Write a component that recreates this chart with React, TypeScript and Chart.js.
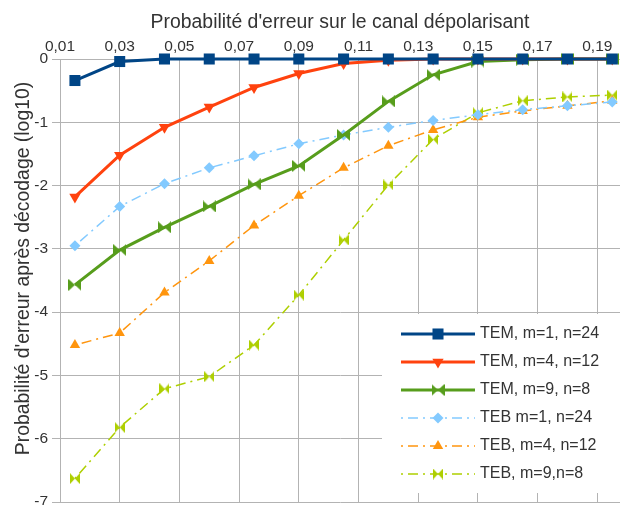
import React, { useEffect, useRef } from 'react';
import { Chart, registerables } from 'chart.js';
import { drawPoint } from 'chart.js/helpers';

Chart.register(...registerables);

const xValues = [0.015, 0.03, 0.045, 0.06, 0.075, 0.09, 0.105, 0.12, 0.135, 0.15, 0.165, 0.18, 0.195];
const xTickValues = [0.01, 0.03, 0.05, 0.07, 0.09, 0.11, 0.13, 0.15, 0.17, 0.19];

const temM1 = [-0.34, -0.04, 0, 0, 0, 0, 0, 0, 0, 0, 0, 0, 0];
const temM4 = [-2.18, -1.52, -1.08, -0.76, -0.45, -0.23, -0.07, -0.02, 0, 0, 0, 0, 0];
const temM9 = [-3.57, -3.02, -2.66, -2.33, -1.98, -1.69, -1.2, -0.67, -0.25, -0.04, -0.01, 0, 0];
const tebM1 = [-2.95, -2.33, -1.97, -1.72, -1.53, -1.34, -1.2, -1.08, -0.97, -0.88, -0.8, -0.74, -0.68];
const tebM4 = [-4.52, -4.33, -3.69, -3.19, -2.63, -2.16, -1.72, -1.37, -1.12, -0.92, -0.82, -0.74, -0.66];
const tebM9 = [-6.63, -5.82, -5.21, -5.02, -4.52, -3.73, -2.86, -1.99, -1.27, -0.85, -0.66, -0.6, -0.57];

const seriesLabels = [
  'TEM, m=1, n=24',
  'TEM, m=4, n=12',
  'TEM, m=9, n=8',
  'TEB m=1, n=24',
  'TEB, m=4, n=12',
  'TEB, m=9,n=8',
];

const xTitle = "Probabilité d'erreur sur le canal dépolarisant";
const yTitle = "Probabilité d'erreur après décodage (log10)";

const FONT = '"Liberation Sans", Arial, sans-serif';
const TEXT = '#333333';
const GRID = '#b3b3b3';

function makeBowtie(color: string, w: number, h: number): HTMLCanvasElement {
  const c = document.createElement('canvas');
  c.width = w;
  c.height = h;
  const g = c.getContext('2d')!;
  g.fillStyle = color;
  g.beginPath();
  g.moveTo(0, 0);
  g.lineTo(w / 2, h / 2);
  g.lineTo(0, h);
  g.closePath();
  g.fill();
  g.beginPath();
  g.moveTo(w, 0);
  g.lineTo(w / 2, h / 2);
  g.lineTo(w, h);
  g.closePath();
  g.fill();
  return c;
}

function toPoints(ys: number[]) {
  return ys.map((y, i) => ({ x: xValues[i], y }));
}

const noPadding = () => ({ left: 0, top: 0, right: 0, bottom: 0 });

const overlayPlugin = {
  id: 'overlay',
  afterDraw(chart: any) {
    const ctx: CanvasRenderingContext2D = chart.ctx;
    const area = chart.chartArea;
    ctx.save();
    // titles
    ctx.fillStyle = TEXT;
    ctx.font = `19.4px ${FONT}`;
    ctx.textAlign = 'center';
    ctx.textBaseline = 'middle';
    ctx.fillText(xTitle, (area.left + area.right) / 2, 23);
    ctx.save();
    ctx.translate(24, 268.5);
    ctx.rotate(-Math.PI / 2);
    ctx.fillText(yTitle, 0, 0);
    ctx.restore();

    // legend
    const bx = 382, by = 314;
    ctx.fillStyle = '#ffffff';
    ctx.fillRect(bx, by, chart.width - bx, 179);
    const rowY0 = 334, rowStep = 28;
    chart.data.datasets.forEach((ds: any, i: number) => {
      const y = rowY0 + i * rowStep;
      ctx.save();
      ctx.strokeStyle = ds.borderColor;
      ctx.lineWidth = ds.borderWidth;
      ctx.setLineDash(ds.borderDash || []);
      ctx.beginPath();
      ctx.moveTo(401, y);
      ctx.lineTo(475, y);
      ctx.stroke();
      ctx.setLineDash([]);
      ctx.fillStyle = ds.pointBackgroundColor;
      ctx.strokeStyle = ds.pointBackgroundColor;
      drawPoint(ctx, {
        pointStyle: ds.pointStyle,
        rotation: ds.pointRotation || 0,
        radius: ds.pointRadius,
        borderWidth: 0,
      } as any, 438, y);
      ctx.restore();
      ctx.fillStyle = TEXT;
      ctx.font = `16px ${FONT}`;
      ctx.textAlign = 'left';
      ctx.textBaseline = 'middle';
      ctx.fillText(ds.label, 480, y);
    });
    ctx.restore();
  },
};

export default function App() {
  const ref = useRef<HTMLCanvasElement>(null);
  useEffect(() => {
    document.body.style.margin = '0';
    const greenTie = makeBowtie('#579d1c', 13, 12);
    const yellowTie = makeBowtie('#aecf00', 10, 11);
    const dash = [2, 5, 10, 5];
    const chart = new Chart(ref.current!, {
      type: 'line',
      data: {
        datasets: [
          {
            label: seriesLabels[0], data: toPoints(temM1),
            borderColor: '#004586', backgroundColor: '#004586', pointBackgroundColor: '#004586',
            borderWidth: 3, pointStyle: 'rect', pointRadius: 7.8, pointBorderWidth: 0,
          },
          {
            label: seriesLabels[1], data: toPoints(temM4),
            borderColor: '#ff420e', backgroundColor: '#ff420e', pointBackgroundColor: '#ff420e',
            borderWidth: 3, pointStyle: 'triangle', pointRotation: 180, pointRadius: 6.5, pointBorderWidth: 0,
          },
          {
            label: seriesLabels[2], data: toPoints(temM9),
            borderColor: '#579d1c', backgroundColor: '#579d1c', pointBackgroundColor: '#579d1c',
            borderWidth: 3, pointStyle: greenTie, pointRadius: 6.5, pointBorderWidth: 0,
          },
          {
            label: seriesLabels[3], data: toPoints(tebM1),
            borderColor: '#83caff', backgroundColor: '#83caff', pointBackgroundColor: '#83caff',
            borderWidth: 1.5, borderDash: dash, pointStyle: 'rectRot', pointRadius: 5.5, pointBorderWidth: 0,
          },
          {
            label: seriesLabels[4], data: toPoints(tebM4),
            borderColor: '#ff950e', backgroundColor: '#ff950e', pointBackgroundColor: '#ff950e',
            borderWidth: 1.5, borderDash: dash, pointStyle: 'triangle', pointRadius: 6, pointBorderWidth: 0,
          },
          {
            label: seriesLabels[5], data: toPoints(tebM9),
            borderColor: '#aecf00', backgroundColor: '#aecf00', pointBackgroundColor: '#aecf00',
            borderWidth: 1.5, borderDash: dash, pointStyle: yellowTie, pointRadius: 5.5, pointBorderWidth: 0,
          },
        ] as any,
      },
      options: {
        animation: false,
        responsive: false,
        clip: false as any,
        layout: { autoPadding: false, padding: { top: 0, right: 0, bottom: 3, left: 0 } },
        elements: { line: { tension: 0, fill: false } },
        plugins: { legend: { display: false }, tooltip: { enabled: false } },
        scales: {
          x: {
            type: 'linear',
            position: 'top',
            min: 0.01,
            max: 0.1976,
            afterBuildTicks: (s: any) => {
              s.ticks = xTickValues.map((v) => ({ value: v }));
            },
            afterFit: (s: any) => {
              s.height = 59;
              s.paddingLeft = 0;
              s.paddingRight = 0;
              s.paddingTop = 0;
              s.paddingBottom = 0;
              s.getPadding = noPadding;
            },
            ticks: {
              autoSkip: false,
              maxRotation: 0,
              padding: 3,
              color: TEXT,
              font: { family: FONT, size: 15.5 },
              callback: (v: any) => Number(v).toFixed(2).replace('.', ','),
            },
            grid: { color: GRID, drawTicks: false, lineWidth: 1 },
            border: { color: GRID },
          },
          y: {
            type: 'linear',
            min: -7,
            max: 0,
            afterFit: (s: any) => {
              s.width = 60;
              s.paddingLeft = 0;
              s.paddingRight = 0;
              s.paddingTop = 0;
              s.paddingBottom = 0;
              s.getPadding = noPadding;
            },
            ticks: {
              stepSize: 1,
              padding: 4,
              color: TEXT,
              font: { family: FONT, size: 15.5 },
              callback: (v: any) => String(v),
            },
            grid: { color: GRID, tickLength: 8, lineWidth: 1 },
            border: { color: GRID },
          },
        },
      } as any,
      plugins: [overlayPlugin],
    });
    return () => chart.destroy();
  }, []);
  return (
    <div style={{ width: 620, height: 505, overflow: 'hidden' }}>
      <canvas ref={ref} width={620} height={505} style={{ display: 'block' }} />
    </div>
  );
}
